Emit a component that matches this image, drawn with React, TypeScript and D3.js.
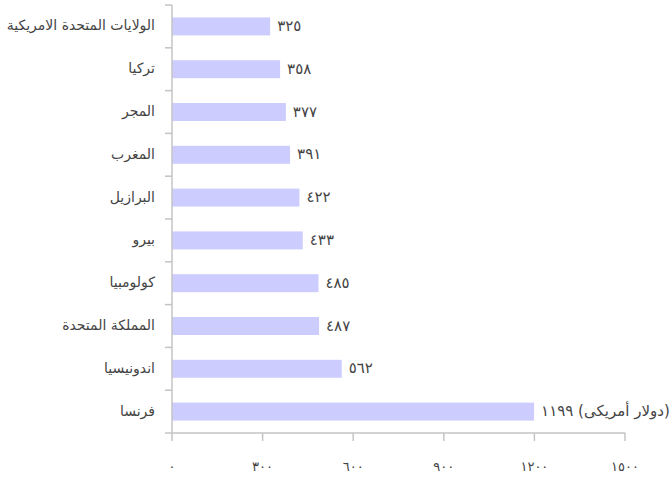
import React from "react";
import * as d3 from "d3";

const categories = [
  "الولايات المتحدة الامريكية",
  "تركيا",
  "المجر",
  "المغرب",
  "البرازيل",
  "بيرو",
  "كولومبيا",
  "المملكة المتحدة",
  "اندونيسيا",
  "فرنسا",
];
const values = [325, 358, 377, 391, 422, 433, 485, 487, 562, 1199];
const valueLabels = ["٣٢٥", "٣٥٨", "٣٧٧", "٣٩١", "٤٢٢", "٤٣٣", "٤٨٥", "٤٨٧", "٥٦٢", "١١٩٩\u200E (دولار أمريكى)"];
const tickValues = [0, 300, 600, 900, 1200, 1500];
const tickLabels = ["٠", "٣٠٠", "٦٠٠", "٩٠٠", "١٢٠٠", "١٥٠٠"];

export default function App() {
  const W = 672, H = 481;
  const x0 = 172, x1 = 625, yTop = 5, yBot = 433;
  const x = d3.scaleLinear().domain([0, 1500]).range([x0, x1]);
  const y = d3.scaleBand<string>().domain(categories).range([yTop, yBot]).paddingInner(0.58).paddingOuter(0.29);
  const step = y.step();
  const boundaries = d3.range(categories.length + 1).map((i) => yTop + i * step);
  const axisColor = "#c4c4c4";
  const font = "'DejaVu Sans', 'Noto Sans', sans-serif";
  return (
    <svg width={W} height={H} style={{ position: "absolute", left: 0, top: 0, fontFamily: font }}>
      <rect width={W} height={H} fill="#fff" />
      {categories.map((c, i) => (
        <rect key={c} x={x(0)} y={y(c)!} width={x(values[i]) - x(0)} height={y.bandwidth()} fill="#ccccff" />
      ))}
      <line x1={x0} x2={x0} y1={yTop} y2={yBot} stroke={axisColor} strokeWidth={1.5} />
      <line x1={x0} x2={x1} y1={yBot} y2={yBot} stroke={axisColor} strokeWidth={1.5} />
      {boundaries.map((b, i) => (
        <line key={i} x1={x0 - 7} x2={x0} y1={b} y2={b} stroke={axisColor} strokeWidth={1.5} />
      ))}
      {tickValues.map((t) => (
        <line key={t} x1={x(t)} x2={x(t)} y1={yBot} y2={yBot + 8} stroke={axisColor} strokeWidth={1.5} />
      ))}
      {tickValues.map((t, i) => (
        <text key={t} x={x(t)} y={467} textAnchor="middle" dominantBaseline="middle" fontSize={13} fill="#444">
          {tickLabels[i]}
        </text>
      ))}
      {categories.map((c) => (
        <text key={c} x={155} y={y(c)! + y.bandwidth() / 2} textAnchor="end" dominantBaseline="middle" fontSize={14} fill="#444">
          {c}
        </text>
      ))}
      {categories.map((c, i) => (
        <text key={c} x={x(values[i]) + 7} y={y(c)! + y.bandwidth() / 2} textAnchor="start" dominantBaseline="middle" fontSize={15} fill="#444" direction="ltr">
          {valueLabels[i]}
        </text>
      ))}
    </svg>
  );
}
